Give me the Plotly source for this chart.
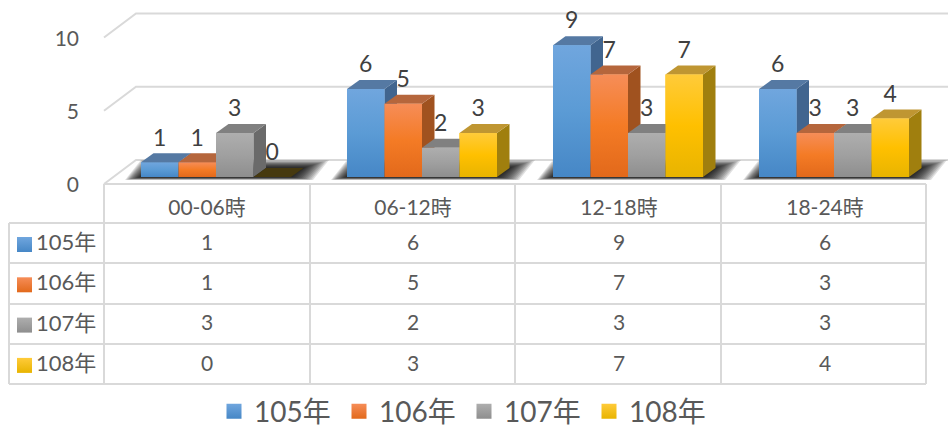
import plotly.graph_objects as go

categories = ["00-06時", "06-12時", "12-18時", "18-24時"]
series_names = ["105年", "106年", "107年", "108年"]
values_105 = [1, 6, 9, 6]
values_106 = [1, 5, 7, 3]
values_107 = [3, 2, 3, 3]
values_108 = [0, 3, 7, 4]
axis_ticks = [0, 5, 10]
series_values = [values_105, values_106, values_107, values_108]

W, H = 948, 428
FONT = "Lato, 'Noto Sans CJK TC', sans-serif"
TXT = "#595959"
GRID = "#D9D9D9"
grad_top = ["#70A6DE", "#F68D58", "#AEAEAE", "#FFCB3A"]
grad_mid = ["#5B9BD5", "#F47B25", "#A0A0A0", "#FFC000"]
grad_bot = ["#4687C6", "#E2691B", "#8E8E8E", "#E8B400"]
top_col = ["#5579A3", "#B5663C", "#808080", "#BF9632"]
side_col = ["#41658F", "#A0521F", "#6A6A6A", "#A07F0E"]
zero_top = "#46390F"

# pixel scale
CAT_PX = 206.0
UNIT_PX = 14.65
BASE_PX = 177.0
FRONT_PX = 184.0
GROUP_PX = 216.0
COL_PX = 207.0
ROW0_PX = 244.5
ROW_PX = 40.3
BAR_W = 37.5 / CAT_PX
DX = 12.5 / CAT_PX
DY = 9.0 / UNIT_PX

fig = go.Figure()
kw_bg = dict(xaxis="x", yaxis="y", hoverinfo="skip", showlegend=False)
kw_bar = dict(xaxis="x2", yaxis="y2", hoverinfo="skip", showlegend=False)
kw_tab = dict(xaxis="x", yaxis="y3", hoverinfo="skip", showlegend=False)

# walls: gridlines from the tick values
wx, wy = [], []
wall_dx = 32 / CAT_PX
wall_dy = 24 / UNIT_PX
left = (104 - COL_PX) / CAT_PX
right = (W + 5 - COL_PX) / CAT_PX
for t in axis_ticks:
    wx += [left, left + wall_dx, right, None]
    wy += [t, t + wall_dy, t + wall_dy, None]
fig.add_trace(go.Scatter(x=wx, y=wy, mode="lines", line=dict(color=GRID, width=2), **kw_bg))


def poly(xs, ys, color=None, grad=None, axes=kw_bar):
    d = dict(x=xs + xs[:1], y=ys + ys[:1], mode="lines", line=dict(width=0), fill="toself", **axes)
    if grad:
        d["fillgradient"] = dict(type="vertical", colorscale=grad)
    else:
        d["fillcolor"] = color
    fig.add_trace(go.Scatter(**d))


# floor shadows: stacked translucent outlines give a soft edge
for i in range(len(categories)):
    l = i - 2 * BAR_W
    r = i + 2 * BAR_W
    n = 14
    for k in range(n):
        e = 1 - k / (n - 1)
        low = -3 * e / UNIT_PX
        high = (9 + 8 * e) / UNIT_PX
        xs = [l - 16 * e / CAT_PX, r + 22 * e / CAT_PX,
              r + (12 + 26 * e) / CAT_PX, l + (12 - 12 * e) / CAT_PX]
        ys = [low, low, high, high]
        poly(xs, ys, color="rgba(0,0,0,0.12)")

# native bars beneath the shaded faces
for s, name in enumerate(series_names):
    fig.add_trace(go.Bar(x=list(range(len(categories))), y=series_values[s], name=name,
                         width=BAR_W, marker=dict(color=grad_mid[s], line=dict(width=0)),
                         offset=(s - 2) * BAR_W, **kw_bar))

# 3-D faces, painted left to right
for i in range(len(categories)):
    for s in range(len(series_names)):
        v = series_values[s][i]
        x0 = i + (s - 2) * BAR_W
        x1 = x0 + BAR_W
        if v > 0:
            poly([x1, x1 + DX, x1 + DX, x1], [0, DY, v + DY, v], color=side_col[s])
        poly([x0, x1, x1 + DX, x0 + DX], [v, v, v + DY, v + DY],
             color=top_col[s] if v > 0 else zero_top)
        if v > 0:
            poly([x0, x1, x1, x0], [0, 0, v, v],
                 grad=[[0, grad_bot[s]], [0.5, grad_mid[s]], [1, grad_top[s]]])

# data labels
for s in range(len(series_names)):
    fig.add_trace(go.Scatter(
        x=[i + (s - 1.5) * BAR_W for i in range(len(categories))],
        y=[v + 22.5 / UNIT_PX for v in series_values[s]],
        text=[str(v) for v in series_values[s]], mode="text", textposition="middle center",
        textfont=dict(family=FONT, size=23, color="#404040"), **kw_bar))

# table header and cells
fig.add_trace(go.Scatter(
    x=list(range(len(categories))), y=[-0.87] * len(categories), text=categories, mode="text",
    textposition="middle center", textfont=dict(family=FONT, size=21, color=TXT), **kw_tab))
for s, name in enumerate(series_names):
    fig.add_trace(go.Scatter(
        x=list(range(len(categories))), y=[s] * len(categories),
        text=[str(v) for v in series_values[s]], mode="text", textposition="middle center",
        textfont=dict(family=FONT, size=21, color=TXT), **kw_tab))
    key_x = (24.5 - COL_PX) / CAT_PX
    fig.add_trace(go.Scatter(
        x=[(36 - COL_PX) / CAT_PX], y=[s], text=[name], mode="text", textposition="middle right",
        textfont=dict(family=FONT, size=22, color=TXT), **kw_tab))
    fig.add_trace(go.Scatter(
        x=[key_x], y=[s], mode="markers", name=name,
        marker=dict(symbol="square", size=15, color=grad_top[s], line=dict(width=0),
                    gradient=dict(type="vertical", color=grad_bot[s])),
        xaxis="x", yaxis="y3", hoverinfo="skip", showlegend=True))


def px_line(x0, y0, x1, y1):
    return dict(type="line", xref="paper", yref="paper", x0=x0 / W, x1=x1 / W,
                y0=1 - y0 / H, y1=1 - y1 / H, line=dict(color=GRID, width=2), layer="below")


shapes = [px_line(104, 184, 926, 184)]
for yy in [223, 263, 304, 344, 384]:
    shapes.append(px_line(9, yy, 926, yy))
shapes.append(px_line(9, 223, 9, 384))
for xx in [104, 310, 515, 721, 926]:
    shapes.append(px_line(xx, 184, xx, 384))

hidden = dict(visible=False, fixedrange=True)
fig.update_layout(
    width=W, height=H, autosize=False,
    margin=dict(l=0, r=0, t=0, b=0, pad=0, autoexpand=False),
    paper_bgcolor="white", plot_bgcolor="white", shapes=shapes,
    barmode="overlay",
    xaxis=dict(range=[(0 - COL_PX) / CAT_PX, (W - COL_PX) / CAT_PX], domain=[0, 1], **hidden),
    xaxis2=dict(range=[(0 - GROUP_PX) / CAT_PX, (W - GROUP_PX) / CAT_PX], domain=[0, 1],
                overlaying="x", **hidden),
    yaxis=dict(range=[(FRONT_PX - H) / UNIT_PX, FRONT_PX / UNIT_PX], domain=[0, 1],
               tickvals=axis_ticks, ticktext=[str(t) for t in axis_ticks], showgrid=False,
               zeroline=False, showline=False, ticks="", anchor="free", position=79 / W,
               ticklabelshift=1,
               tickfont=dict(family=FONT, size=21, color=TXT), fixedrange=True),
    yaxis2=dict(range=[(BASE_PX - H) / UNIT_PX, BASE_PX / UNIT_PX], domain=[0, 1],
                overlaying="y", **hidden),
    yaxis3=dict(range=[(H - ROW0_PX) / ROW_PX, (0 - ROW0_PX) / ROW_PX], domain=[0, 1],
                overlaying="y", **hidden),
    legend=dict(orientation="h", x=214 / W, xanchor="left", y=1 - 411.5 / H, yanchor="middle",
                entrywidth=80, entrywidthmode="pixels", itemsizing="trace", itemwidth=30,
                font=dict(family=FONT, size=28, color=TXT), bgcolor="rgba(0,0,0,0)",
                tracegroupgap=0),
    font=dict(family=FONT, color=TXT),
)

fig.write_html("out.html", config=dict(displayModeBar=False),
               post_script="document.body.style.margin='0';document.documentElement.style.overflow='hidden';")
